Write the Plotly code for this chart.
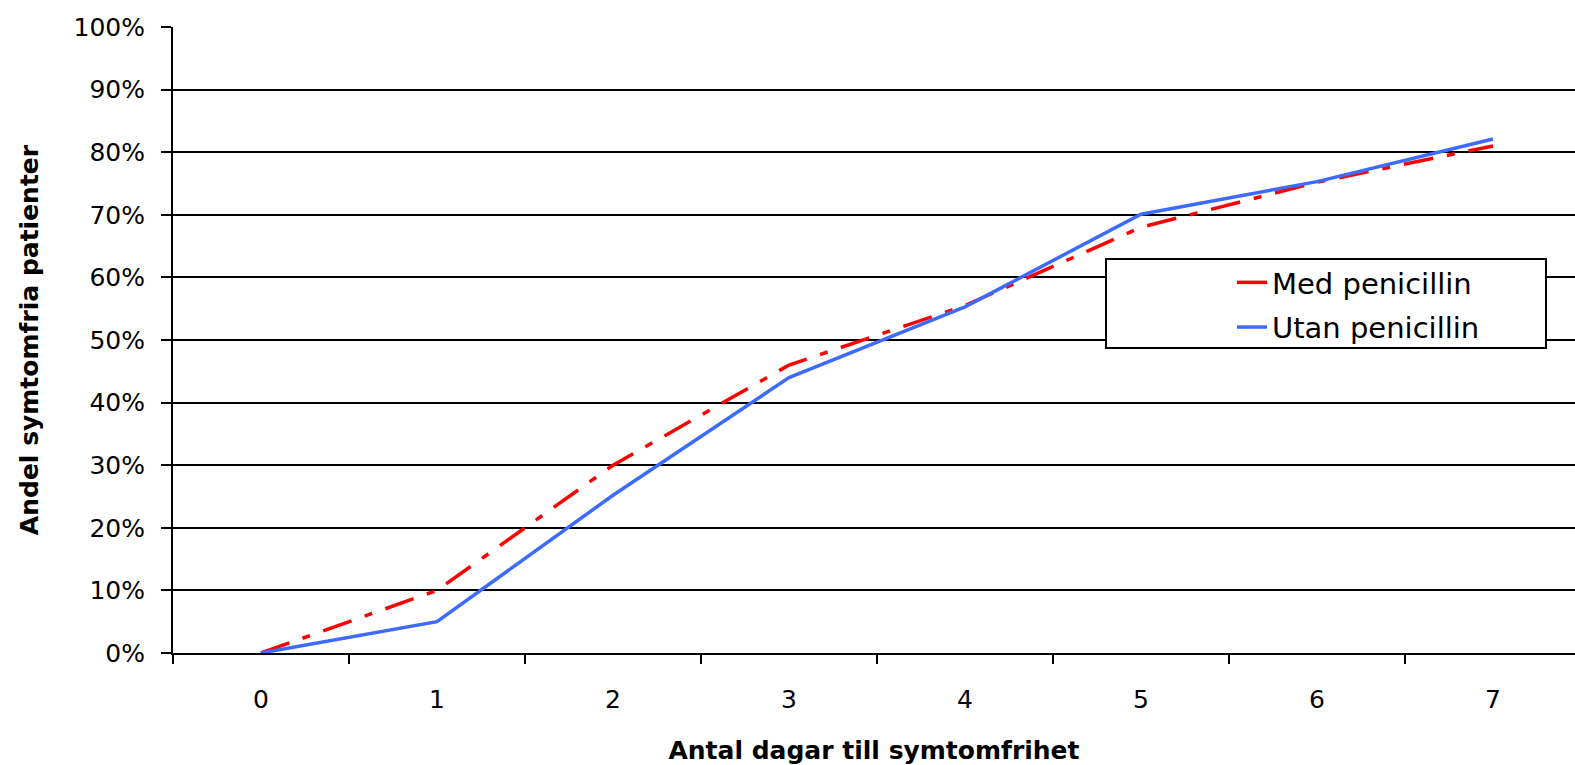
import plotly.graph_objects as go

days = ["0", "1", "2", "3", "4", "5", "6", "7"]
med_penicillin = [0, 10, 30, 46, 55.5, 68, 75.2, 81]
utan_penicillin = [0, 5, 25.2, 44, 55.3, 70.1, 75.3, 82.1]
y_ticks = [0, 10, 20, 30, 40, 50, 60, 70, 80, 90, 100]
y_tick_labels = [f"{v}%" for v in y_ticks]

W, H = 1575, 765
L, R, T, B = 173, 0, 27, 112
pw, ph = W - L - R, H - T - B

fig = go.Figure()
fig.add_trace(go.Scatter(
    x=days, y=med_penicillin, mode="lines", name="Med penicillin",
    line=dict(color="#FF0000", width=3.5, dash="30px,14px,8px,14px"),
    legendgroup="a",
))
fig.add_trace(go.Scatter(
    x=days, y=utan_penicillin, mode="lines", name="Utan penicillin",
    line=dict(color="#3D6BFF", width=3.5),
    legendgroup="b",
))

font_family = "DejaVu Sans, Liberation Sans, Arial, sans-serif"

# legend frame (box) in pixel-derived paper coordinates
box_x0, box_x1, box_y0, box_y1 = 1106, 1546, 259, 348
fig.add_shape(
    type="rect", xref="paper", yref="paper",
    x0=(box_x0 - L) / pw, x1=(box_x1 - L) / pw,
    y0=(H - B - box_y1) / ph, y1=(H - B - box_y0) / ph,
    line=dict(color="black", width=2), fillcolor="white", layer="above",
)

fig.update_layout(
    width=W, height=H,
    margin=dict(l=L, r=R, t=T, b=B),
    plot_bgcolor="white", paper_bgcolor="white",
    font=dict(family=font_family, color="black", size=24),
    showlegend=True,
    legend=dict(
        x=(1232 - L) / pw, y=(H - B - 257) / ph,
        xanchor="left", yanchor="top",
        borderwidth=0, bgcolor="rgba(0,0,0,0)",
        font=dict(size=29, family=font_family, color="black"),
        tracegroupgap=4,
    ),
    xaxis=dict(
        type="category",
        range=[-0.5, 7.466],
        showgrid=False,
        showline=True, linecolor="black", linewidth=2,
        ticks="outside", tickson="boundaries", ticklen=9, tickwidth=2, tickcolor="black",
        tickfont=dict(size=25),
        ticklabelstandoff=23,
        title=dict(text="<b>Antal dagar till symtomfrihet</b>", font=dict(size=25), standoff=30),
        zeroline=False,
    ),
    yaxis=dict(
        range=[0, 100],
        tickvals=y_ticks, ticktext=y_tick_labels,
        showgrid=True, gridcolor="black", gridwidth=2,
        showline=True, linecolor="black", linewidth=2,
        ticks="outside", ticklen=10, tickwidth=2, tickcolor="black",
        tickfont=dict(size=25),
        ticklabelstandoff=11,
        title=dict(text="<b>Andel symtomfria patienter</b>", font=dict(size=25), standoff=28),
        zeroline=False,
    ),
)

fig.write_html(
    "out.html",
    config={"displayModeBar": False},
    post_script="document.body.style.margin='0px';document.body.style.overflow='hidden';",
)
